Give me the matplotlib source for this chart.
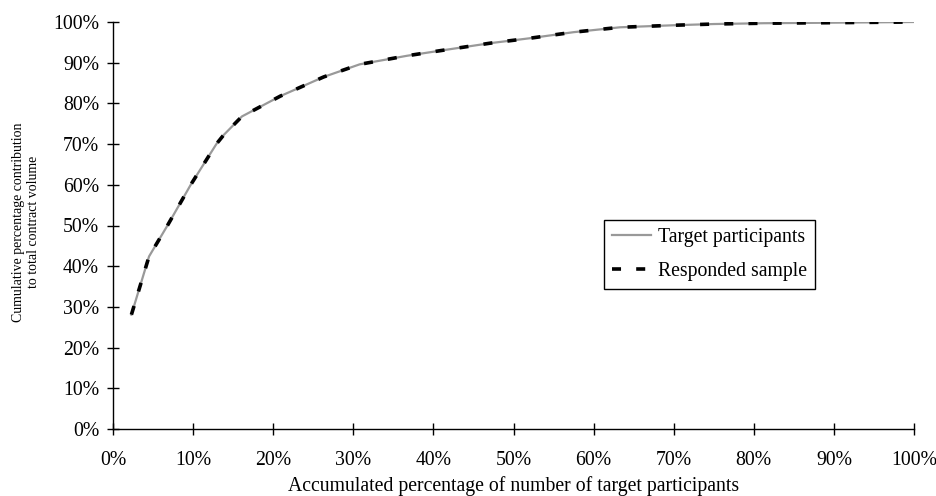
import numpy as np
import matplotlib
matplotlib.use("Agg")
import matplotlib.pyplot as plt
from matplotlib.ticker import PercentFormatter

plt.rcParams['font.family'] = ['Liberation Serif', 'DejaVu Serif']

# accumulated % of participants vs cumulative % of contract volume
x_pct = [2.3, 4.5, 6.8, 9.7, 12.9, 13.8, 16.1, 20.9, 26.3, 30.8, 36.7, 41.0,
         47.1, 52.0, 57.5, 63.3, 70.0, 75.0, 81.2, 88.0, 94.0, 100.0]
target = [28.1, 42.4, 50.0, 60.0, 70.0, 72.2, 76.8, 81.8, 86.5, 89.6, 91.7, 93.0,
          94.8, 96.0, 97.5, 98.7, 99.2, 99.5, 99.7, 99.8, 99.9, 100.0]
responded = target

fs = 14.2

fig = plt.figure(figsize=(9.37, 4.96), dpi=100)
ax = fig.add_axes([113/937, 1-429/496, 801/937, 407/496])

ax.plot(x_pct, target, color='#999999', lw=1.6, label='Target participants')
ax.plot(x_pct, responded, color='black', lw=2.6, dashes=(2.5, 4.2),
        dash_capstyle='butt', label='Responded sample')

ax.set_xlim(0, 100)
ax.set_ylim(0, 100)
ax.set_xticks(np.arange(0, 101, 10))
ax.set_yticks(np.arange(0, 101, 10))
ax.xaxis.set_major_formatter(PercentFormatter(decimals=0))
ax.yaxis.set_major_formatter(PercentFormatter(decimals=0))
for s in ['top', 'right']:
    ax.spines[s].set_visible(False)
ax.spines['left'].set_linewidth(1)
ax.spines['bottom'].set_linewidth(1)
ax.tick_params(axis='both', which='major', direction='inout', length=8,
               width=1, labelsize=fs)
ax.tick_params(axis='x', pad=12)
ax.tick_params(axis='y', pad=6)

ax.set_xlabel('Accumulated percentage of number of target participants',
              fontsize=fs, labelpad=4)
ax.set_ylabel('Cumulative percentage contribution\nto total contract volume',
              fontsize=10, linespacing=1.25)
ax.yaxis.set_label_coords(-0.091, 0.509)

leg = ax.legend(loc='upper left', bbox_to_anchor=(0.613, 0.5135),
                borderaxespad=0, fontsize=fs, handlelength=2.0,
                handletextpad=0.35, borderpad=0.4, labelspacing=0.75,
                fancybox=False, framealpha=1, edgecolor='black')
leg.get_frame().set_linewidth(1)

fig.savefig('out.png', dpi=100)
